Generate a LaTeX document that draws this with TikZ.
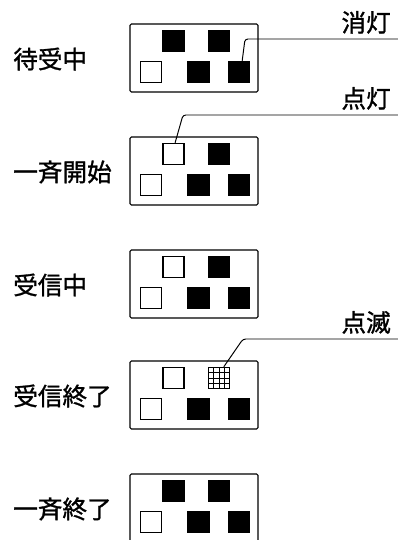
\documentclass[tikz,border=0pt]{standalone}
\usepackage{fontspec}
\setmainfont[FakeBold=1.2]{Noto Sans CJK JP}
\usetikzlibrary{calc}
\tikzset{
    panel/.style={draw, line width=0.8pt, rounded corners=1pt, minimum width=3.2cm, minimum height=1.7cm, inner sep=0pt},
    lampoff/.style={draw, line width=0.9pt, fill=white, minimum size=0.53cm, inner sep=0pt},
    lampon/.style={lampoff, fill=black},
    lampblink/.style={lampoff, path picture={
        \foreach \f in {0.25,0.5,0.75}{
            \draw[line width=0.5pt] ($(path picture bounding box.north west)!\f!(path picture bounding box.north east)$) -- ($(path picture bounding box.south west)!\f!(path picture bounding box.south east)$);
            \draw[line width=0.5pt] ($(path picture bounding box.north west)!\f!(path picture bounding box.south west)$) -- ($(path picture bounding box.north east)!\f!(path picture bounding box.south east)$);
        }}},
    state/.style={anchor=west, inner sep=0pt, font=\fontsize{17.5}{20}\selectfont},
    note/.style={anchor=south east, inner sep=0pt, font=\fontsize{17.5}{20}\selectfont},
    leader/.style={line width=0.7pt, rounded corners=2pt}
}
\begin{document}
\begin{tikzpicture}[x=0.025cm, y=-0.025cm]
    \useasboundingbox (0,0) rectangle (398,540);
    % Pannelli (stato, lampade in alto)
    \foreach \py/\name/\txt/\ta/\tb in {24/wait/待受中/lampon/lampon,
                                        137/start/一斉開始/lampoff/lampon,
                                        250/recv/受信中/lampoff/lampon,
                                        361/rend/受信終了/lampoff/lampblink,
                                        474/stop/一斉終了/lampon/lampon}{
        \node[panel] (\name) at (194,\py+34) {};
        \node[state] (\name-lbl) at (13,\py+35) {\txt};
        \node[\ta] (\name-t1) at (173.5,\py+17) {};
        \node[\tb] (\name-t2) at (219,\py+17) {};
        \node[lampoff] (\name-b1) at (151,\py+48) {};
        \node[lampon] (\name-b2) at (198.5,\py+48) {};
        \node[lampon] (\name-b3) at (239,\py+48) {};
    }
    % Richiami
    \node[note] (offnote) at (391,34) {消灯};
    \coordinate (offend) at (398,39);
    \draw[leader] ([xshift=0.08cm]wait-b3.north) -- (245,39) -- (offend);
    \node[note] (onnote) at (391,110) {点灯};
    \coordinate (onend) at (398,115);
    \draw[leader] ([xshift=0.04cm]start-t1.north) -- (183,115) -- (onend);
    \node[note] (blinknote) at (391,334) {点滅};
    \coordinate (blinkend) at (398,339);
    \draw[leader] ([xshift=0.12cm]rend-t2.north) -- (243,339) -- (blinkend);
\end{tikzpicture}
\end{document}
